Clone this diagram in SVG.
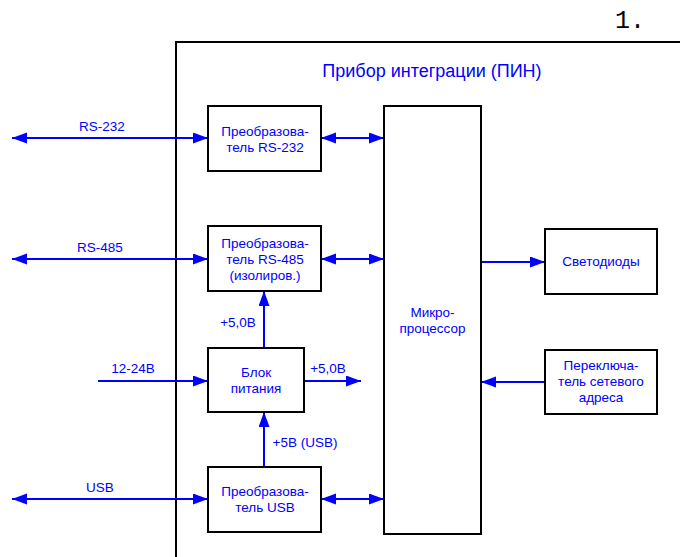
<svg xmlns="http://www.w3.org/2000/svg" width="680" height="557" viewBox="0 0 680 557">
<style>
.box{fill:#fff;stroke:#000;stroke-width:2}
.t{font-family:"Liberation Sans",Arial,sans-serif;font-size:13.5px;fill:#0000ff;text-anchor:middle}
.l{fill:none;stroke:#0000ff;stroke-width:2}
</style>
<defs>
<marker id="ah" markerUnits="userSpaceOnUse" markerWidth="16" markerHeight="12" refX="15" refY="5.5" orient="auto-start-reverse" viewBox="0 0 16 12">
<path d="M0,0 L15,5.5 L0,11 z" fill="#0000ff"/>
</marker>
</defs>
<rect width="680" height="557" fill="#fff"/>
<text x="645" y="28" font-family="Liberation Mono,monospace" font-size="25" text-anchor="end" fill="#000">1.</text>
<g id="outer">
<path d="M176,560 L176,42 L682,42" fill="none" stroke="#000" stroke-width="2"/>
<text class="t" x="432" y="77" style="font-size:18px">Прибор интеграции (ПИН)</text>
</g>
<g id="connectors">
<line class="l" x1="12" y1="138" x2="208" y2="138" marker-start="url(#ah)" marker-end="url(#ah)"/>
<line class="l" x1="321" y1="138" x2="384" y2="138" marker-start="url(#ah)" marker-end="url(#ah)"/>
<line class="l" x1="12" y1="259" x2="208" y2="259" marker-start="url(#ah)" marker-end="url(#ah)"/>
<line class="l" x1="321" y1="259" x2="384" y2="259" marker-start="url(#ah)" marker-end="url(#ah)"/>
<line class="l" x1="12" y1="499" x2="208" y2="499" marker-start="url(#ah)" marker-end="url(#ah)"/>
<line class="l" x1="321" y1="499" x2="384" y2="499" marker-start="url(#ah)" marker-end="url(#ah)"/>
<line class="l" x1="98" y1="381" x2="208" y2="381" marker-end="url(#ah)"/>
<line class="l" x1="304" y1="381" x2="361" y2="381" marker-end="url(#ah)"/>
<line class="l" x1="264" y1="348" x2="264" y2="291" marker-end="url(#ah)"/>
<line class="l" x1="264" y1="467" x2="264" y2="412" marker-end="url(#ah)"/>
<line class="l" x1="481" y1="262" x2="545" y2="262" marker-end="url(#ah)"/>
<line class="l" x1="545" y1="382" x2="481" y2="382" marker-end="url(#ah)"/>
<text class="t" x="102" y="131">RS-232</text>
<text class="t" x="100" y="252">RS-485</text>
<text class="t" x="133" y="373">12-24В</text>
<text class="t" x="100" y="492">USB</text>
<text class="t" x="238" y="327">+5,0В</text>
<text class="t" x="328" y="373">+5,0В</text>
<text class="t" x="272.5" y="447" style="text-anchor:start">+5В (USB)</text>
</g>
<g id="conv232">
<rect class="box" x="208" y="106" width="113" height="65"/>
<text class="t" x="265" y="136">Преобразова-</text>
<text class="t" x="265" y="152">тель RS-232</text>
</g>
<g id="conv485">
<rect class="box" x="208" y="226" width="113" height="65"/>
<text class="t" x="265" y="248">Преобразова-</text>
<text class="t" x="265" y="264">тель RS-485</text>
<text class="t" x="265" y="280">(изолиров.)</text>
</g>
<g id="power">
<rect class="box" x="208" y="348" width="96" height="64"/>
<text class="t" x="256" y="377">Блок</text>
<text class="t" x="256" y="393">питания</text>
</g>
<g id="convusb">
<rect class="box" x="208" y="467" width="113" height="65"/>
<text class="t" x="265" y="496">Преобразова-</text>
<text class="t" x="265" y="512">тель USB</text>
</g>
<g id="mcu">
<rect class="box" x="384" y="106" width="97" height="428"/>
<text class="t" x="432.5" y="317">Микро-</text>
<text class="t" x="432.5" y="333">процессор</text>
</g>
<g id="leds">
<rect class="box" x="545" y="229" width="112" height="65"/>
<text class="t" x="601" y="266">Светодиоды</text>
</g>
<g id="switch">
<rect class="box" x="545" y="350" width="112" height="64"/>
<text class="t" x="601" y="370">Переключа-</text>
<text class="t" x="601" y="386">тель сетевого</text>
<text class="t" x="601" y="402">адреса</text>
</g>
</svg>
